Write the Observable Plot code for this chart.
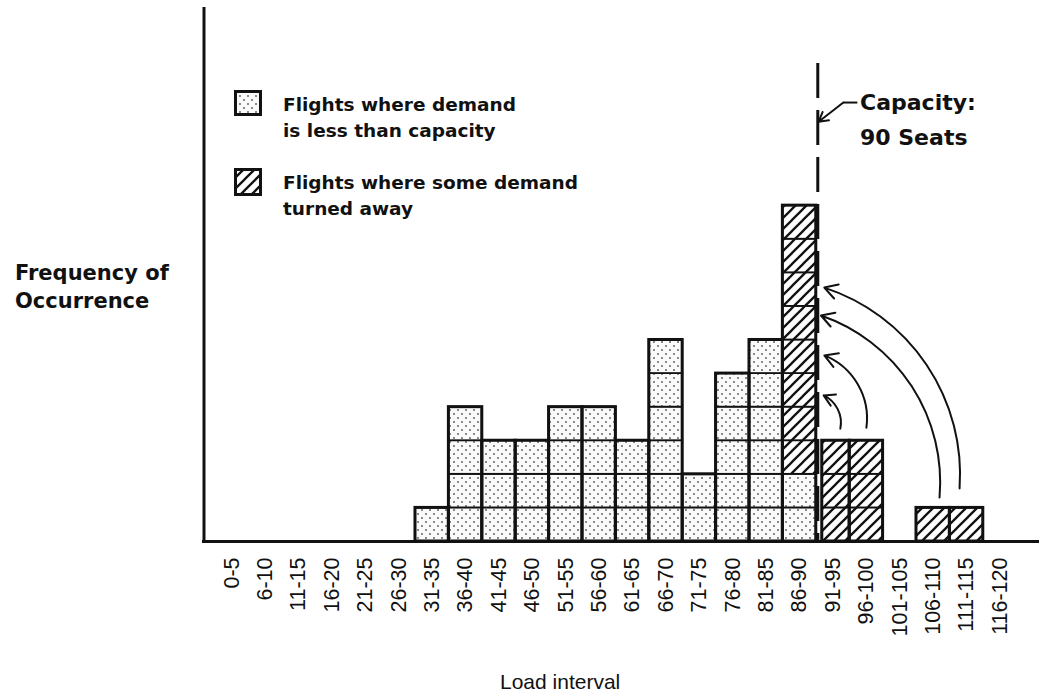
<!DOCTYPE html>
<html>
<head>
<meta charset="utf-8">
<script src="https://cdn.jsdelivr.net/npm/d3@7"></script>
<script src="https://cdn.jsdelivr.net/npm/@observablehq/plot@0.6"></script>
<style>
  body { margin: 0; background: #fff; }
  #wrap { position: relative; width: 1039px; height: 700px; overflow: hidden; }
  .lbl { position: absolute; font-family: "DejaVu Sans", sans-serif; font-weight: bold; color: #111; white-space: nowrap; }
  .legend-row { position: absolute; left: 234px; display: flex; align-items: flex-start; }
  .legend-row svg { display: block; }
</style>
</head>
<body>
<div id="wrap"></div>
<script>
// ---- data ----
const intervals = ["0-5","6-10","11-15","16-20","21-25","26-30","31-35","36-40","41-45","46-50","51-55","56-60",
                   "61-65","66-70","71-75","76-80","81-85","86-90","91-95","96-100","101-105","106-110","111-115","116-120"];
const underCapacity = [0,0,0,0,0,0,1,4,3,3,4,4,3,6,2,5,6,2,0,0,0,0,0,0];
const turnedAway    = [0,0,0,0,0,0,0,0,0,0,0,0,0,0,0,0,0,8,3,3,0,1,1,0];
const capacityLabel = ["Capacity:", "90 Seats"];
const legendLabels = [["Flights where demand", "is less than capacity"], ["Flights where some demand", "turned away"]];
const yLabel = ["Frequency of", "Occurrence"];
const xLabel = "Load interval";
// spilled demand arrows (from spill column to capacity column), in data units
const spillArrows = [
  {x1: 18.72, y1: 3.36, x2: 18.22, y2: 4.35},
  {x1: 19.50, y1: 3.39, x2: 18.24, y2: 5.54},
  {x1: 21.69, y1: 1.31, x2: 18.14, y2: 6.73},
  {x1: 22.29, y1: 1.58, x2: 18.24, y2: 7.56}
];
const capacityTop = 14.23;
const capacityPointer = [{x1: 19.23, y1: 13.07, x2: 18.81, y2: 13.07}, {x1: 18.81, y1: 13.07, x2: 18.07, y2: 12.5}];

// ---- derived ----
const capacityIndex = intervals.indexOf("86-90") + 1; // boundary at 90 seats
const cells = [];
intervals.forEach((label, i) => {
  for (let k = 0; k < underCapacity[i]; k++) cells.push({i, k, type: "under"});
  for (let k = 0; k < turnedAway[i]; k++) cells.push({i, k: underCapacity[i] + k, type: "turned"});
});
const columns = intervals.map((label, i) => ({i, total: underCapacity[i] + turnedAway[i]})).filter(d => d.total > 0);

const xDomain = [-0.377, 24.683];
const yDomain = [0, 15.9];

function cellMarks(data, fill) {
  const base = {x1: "i", x2: d => d.i + 1, y1: "k", y2: d => d.k + 1, fill, stroke: "#111", strokeWidth: 1.8};
  return [
    Plot.rect(data.filter(d => d.i !== capacityIndex), base),
    Plot.rect(data.filter(d => d.i === capacityIndex), {...base, insetLeft: 6})
  ];
}
const colBase = {x1: "i", x2: d => d.i + 1, y1: 0, y2: "total", fill: "none", stroke: "#111", strokeWidth: 3};

const chart = Plot.plot({
  width: 1039,
  height: 700,
  marginLeft: 202,
  marginRight: 0,
  marginTop: 7,
  marginBottom: 159,
  style: {fontFamily: "'Liberation Sans', Arial, sans-serif", fontSize: "21px", color: "#111", background: "transparent"},
  x: {type: "linear", domain: xDomain, axis: null},
  y: {type: "linear", domain: yDomain, axis: null},
  marks: [
    ...cellMarks(cells.filter(d => d.type === "under"), "url(#dots)"),
    ...cellMarks(cells.filter(d => d.type === "turned"), "url(#hatch)"),
    Plot.rect(columns.filter(d => d.i !== capacityIndex), colBase),
    Plot.rect(columns.filter(d => d.i === capacityIndex), {...colBase, insetLeft: 6}),
    Plot.ruleX([capacityIndex], {y1: capacityTop, y2: 0, stroke: "#111", strokeWidth: 3, strokeDasharray: "35,12", dx: 1.5}),
    Plot.ruleY([0], {stroke: "#111", strokeWidth: 3}),
    Plot.ruleX([xDomain[0]], {stroke: "#111", strokeWidth: 3, dx: 1.5}),
    Plot.axisX({
      ticks: intervals.map((d, i) => i + 0.5),
      tickFormat: d => intervals[Math.floor(d)],
      tickRotate: -90, tickSize: 0, tickPadding: 16, fontSize: 21.5, label: null
    }),
    Plot.arrow(spillArrows, {x1: "x1", y1: "y1", x2: "x2", y2: "y2", bend: -38, stroke: "#111", strokeWidth: 2, headLength: 11}),
    Plot.link(capacityPointer.slice(0, 1), {x1: "x1", y1: "y1", x2: "x2", y2: "y2", stroke: "#111", strokeWidth: 2}),
    Plot.arrow(capacityPointer.slice(1), {x1: "x1", y1: "y1", x2: "x2", y2: "y2", stroke: "#111", strokeWidth: 2, headLength: 11})
  ]
});

const defsMarkup = `
  <pattern id="dots" width="8" height="8" patternUnits="userSpaceOnUse">
    <rect width="8" height="8" fill="#fafafa"/>
    <circle cx="2" cy="2" r="0.9" fill="#555"/>
    <circle cx="6" cy="6" r="0.9" fill="#555"/>
  </pattern>
  <pattern id="hatch" width="11" height="11" patternUnits="userSpaceOnUse">
    <rect width="11" height="11" fill="#fff"/>
    <path d="M0,11 L11,0 M-3,3 L3,-3 M8,14 L14,8" stroke="#111" stroke-width="2.3"/>
  </pattern>`;
const defs = document.createElementNS("http://www.w3.org/2000/svg", "defs");
defs.innerHTML = defsMarkup;
chart.insertBefore(defs, chart.firstChild);

const wrap = document.getElementById("wrap");
wrap.appendChild(chart);

function addLabel(lines, left, top, size, lineHeight, extra = {}) {
  const div = document.createElement("div");
  div.className = "lbl";
  div.style.left = left + "px";
  div.style.top = top + "px";
  div.style.fontSize = size + "px";
  div.style.lineHeight = lineHeight + "px";
  Object.assign(div.style, extra);
  div.innerHTML = lines.join("<br>");
  wrap.appendChild(div);
  return div;
}
// y label
addLabel(yLabel, 15, 259, 21, 28);
// capacity label
addLabel(capacityLabel, 860, 85, 22, 35);
// x label
addLabel([xLabel], 500, 668, 21, 28, {fontFamily: "'Liberation Sans', Arial, sans-serif", fontWeight: "normal"});

// legend
const swatch = (fill, h) => `<svg width="28" height="${h}" style="margin-right:21px;margin-top:0px"><rect x="1.5" y="1.5" width="25" height="${h-3}" fill="${fill}" stroke="#111" stroke-width="3"/></svg>`;
const legendTops = [90, 168];
const legendFills = ["url(#dots)", "url(#hatch)"];
legendLabels.forEach((lines, j) => {
  const row = document.createElement("div");
  row.className = "legend-row";
  row.style.top = legendTops[j] + "px";
  row.innerHTML = swatch(legendFills[j], j === 0 ? 26 : 28) +
    `<div class="lbl" style="position:static;font-size:18.5px;line-height:26px;margin-top:2px">${lines.join("<br>")}</div>`;
  wrap.appendChild(row);
});
</script>
</body>
</html>
